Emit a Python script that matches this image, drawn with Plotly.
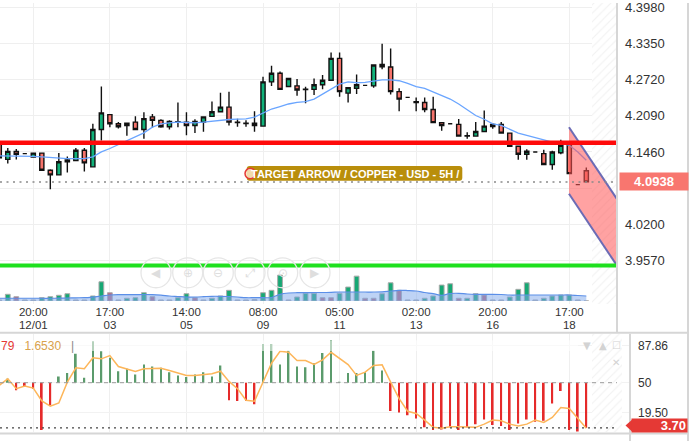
import plotly.graph_objects as go

W, H = 698, 441

# ---------------- data ----------------
opens = [4.160, 4.133, 4.147, 4.143, 4.137, 4.144, 4.114, 4.106, 4.129, 4.131,
         4.149, 4.120, 4.185, 4.211, 4.195, 4.192, 4.198, 4.185, 4.207, 4.201,
         4.190, 4.1985, 4.198, 4.192, 4.198, 4.208, 4.216, 4.224, 4.198, 4.196,
         4.196, 4.191, 4.268, 4.283, 4.260, 4.261, 4.2555, 4.255, 4.263, 4.271,
         4.309, 4.2485, 4.257, 4.262, 4.261, 4.2985, 4.294, 4.251, 4.241, 4.2335,
         4.232, 4.220, 4.197, 4.195, 4.194, 4.1742, 4.1736, 4.1817, 4.1903, 4.1938,
         4.1788, 4.1558, 4.1419, 4.146, 4.143, 4.124, 4.1447, 4.1575, 4.089, 4.1131]
highs = [4.166, 4.153, 4.151, 4.143, 4.145, 4.145, 4.116, 4.144, 4.138, 4.153,
         4.153, 4.195, 4.260, 4.212, 4.198, 4.196, 4.208, 4.215, 4.212, 4.203,
         4.201, 4.232, 4.215, 4.203, 4.207, 4.234, 4.249, 4.251, 4.204, 4.201,
         4.217, 4.277, 4.296, 4.286, 4.275, 4.273, 4.2595, 4.274, 4.280, 4.319,
         4.319, 4.259, 4.281, 4.262, 4.298, 4.3345, 4.326, 4.257, 4.241, 4.241,
         4.241, 4.242, 4.197, 4.195, 4.2035, 4.1805, 4.198, 4.218, 4.196, 4.198,
         4.1795, 4.1558, 4.1506, 4.146, 4.150, 4.148, 4.1672, 4.1585, 4.089, 4.1187]
lows = [4.133, 4.126, 4.133, 4.143, 4.136, 4.113, 4.081, 4.105, 4.110, 4.131,
        4.112, 4.120, 4.166, 4.189, 4.187, 4.174, 4.184, 4.169, 4.188, 4.188,
        4.185, 4.189, 4.175, 4.179, 4.181, 4.207, 4.216, 4.192, 4.190, 4.190,
        4.181, 4.190, 4.261, 4.254, 4.259, 4.244, 4.231, 4.245, 4.255, 4.271,
        4.242, 4.232, 4.247, 4.262, 4.258, 4.290, 4.246, 4.217, 4.241, 4.217,
        4.215, 4.197, 4.183, 4.195, 4.1736, 4.169, 4.1736, 4.1817, 4.1863, 4.178,
        4.1546, 4.1326, 4.1326, 4.146, 4.123, 4.115, 4.142, 4.1075, 4.089, 4.0938]
closes = [4.136, 4.147, 4.142, 4.143, 4.144, 4.114, 4.106, 4.129, 4.132, 4.149,
          4.127, 4.185, 4.214, 4.195, 4.190, 4.196, 4.185, 4.204, 4.201, 4.190,
          4.199, 4.1975, 4.192, 4.199, 4.207, 4.216, 4.224, 4.198, 4.197, 4.1955,
          4.192, 4.268, 4.283, 4.255, 4.274, 4.254, 4.2545, 4.263, 4.271, 4.309,
          4.251, 4.258, 4.263, 4.262, 4.2975, 4.2945, 4.251, 4.238, 4.241, 4.232,
          4.220, 4.197, 4.192, 4.195, 4.1736, 4.1737, 4.1817, 4.191, 4.1938, 4.1788,
          4.1558, 4.1419, 4.1471, 4.146, 4.124, 4.146, 4.1575, 4.1083, 4.089, 4.0938]
ma_line = [4.139, 4.139, 4.1386, 4.1386, 4.1383, 4.1373, 4.136, 4.135, 4.1343, 4.1343,
           4.1343, 4.1373, 4.146, 4.152, 4.1589, 4.1661, 4.1727, 4.1793, 4.1891, 4.1948,
           4.1966, 4.1978, 4.1973, 4.1966, 4.1978, 4.1995, 4.2013, 4.2025, 4.203, 4.2035,
           4.2065, 4.2134, 4.2208, 4.225, 4.2295, 4.2324, 4.2336, 4.2381, 4.2468, 4.2554,
           4.2641, 4.2682, 4.2665, 4.267, 4.270, 4.2717, 4.2717, 4.270, 4.2653, 4.2596,
           4.2566, 4.2509, 4.244, 4.2381, 4.2295, 4.2191, 4.2094, 4.203, 4.1948, 4.1921,
           4.1852, 4.1788, 4.1748, 4.1706, 4.1661, 4.1632, 4.162, 4.1575, 4.146, 4.1315]
volumes = [1, 6.7, 4.3, 1, 1, 3.3, 4.3, 5.7, 7.3, 1,
           1, 5, 19.3, 8.3, 1, 2.7, 3.3, 8.3, 4.3, 1,
           1, 3.3, 7.3, 3.3, 1, 2.7, 5, 10.7, 1, 1,
           1.5, 8.3, 10.7, 26, 1, 4, 7.7, 7.7, 3.3, 3.3,
           7.7, 14, 25, 2.7, 2.7, 7.3, 18.3, 10.7, 1, 1,
           2.7, 5, 16, 17.3, 2.7, 2.7, 7.3, 6, 1, 1,
           4, 11.7, 18.3, 1, 2.7, 5, 6, 6, 1, 0]
vol_dir = ["n", "g", "r", "n", "n", "g", "g", "g", "g", "n",
           "n", "g", "g", "r", "n", "g", "g", "g", "r", "n",
           "n", "g", "g", "r", "n", "g", "g", "g", "n", "n",
           "n", "g", "g", "g", "n", "g", "g", "g", "r", "r",
           "g", "g", "g", "r", "r", "g", "g", "r", "n", "n",
           "g", "g", "g", "g", "r", "g", "g", "r", "n", "n",
           "g", "g", "g", "n", "g", "g", "g", "g", "n", "n"]
vol_ma = [2.7, 2.7, 2.7, 2.7, 2.7, 2.7, 2.7, 2.8, 3, 3.2,
          3.3, 4, 5, 6, 6.3, 6.3, 6.3, 6.5, 6.3, 5.8,
          5, 4.5, 4, 4, 4.3, 4.7, 4.7, 4.5, 4, 3.3,
          3.3, 3.3, 3.5, 6.7, 8, 8.3, 8.3, 8.5, 8.5, 8.7,
          9, 9, 9, 9, 9, 9.2, 10, 10.7, 10.5, 10,
          8.5, 7.3, 5.7, 7.5, 7.7, 7, 6.7, 6.7, 6.7, 6.5,
          6, 6, 6, 6, 6, 6, 6, 6, 5.5, 5]
osc_hist = [48, 54, 42.2, 45.5, 43.9, 1.5, 26.9, 56.4, 59.8, 79.5,
            55.1, 92.3, 82.1, 75.4, 61.8, 64.2, 58.4, 68.6, 66.6, 65.2,
            60.8, 57.4, 55.7, 58.4, 60.8, 56.4, 67.6, 32, 31.3, 31.3,
            27.9, 89.6, 89.6, 68.6, 82.8, 66.6, 65.9, 69.9, 80.5, 93.7,
            50.5, 60, 59.8, 60.8, 82.8, 62.5, 21.1, 19.5, 16.8, 13.4,
            4.3, 1.5, 2.2, 4.3, 1.5, 4.3, 7.6, 12.4, 6.6, 5.6,
            1.5, 8.3, 12.4, 10, 11, 28.7, 41.5, 1.5, 0, 3.7]
osc_line = [47.3, 54, 43.9, 46.5, 44.5, 31.3, 25.9, 29.3, 50.6, 65.2,
            64.2, 75.4, 74.4, 77.7, 66.6, 64.2, 61.5, 64.2, 64.2, 64.8,
            62.5, 59.8, 57.4, 57.4, 58.4, 59.1, 61.8, 51.3, 43.9, 32,
            31, 50.6, 69.9, 82.1, 81.1, 72.7, 72.7, 68.6, 73.4, 81.1,
            74.5, 68.5, 57.4, 60.8, 67.6, 68.3, 50.6, 33.7, 20.8, 18.5,
            11.7, 4.3, 3.3, 4.9, 4.9, 4.3, 4.3, 7.6, 11.7, 11,
            7.6, 5.6, 7.6, 11.7, 9.3, 14.4, 24.6, 23.6, 13.4, 3.3]
tick_idx = [4, 13, 22, 31, 40, 49, 58, 67]
tick_time = ["20:00", "17:00", "14:00", "08:00", "05:00", "02:00", "20:00", "17:00"]
tick_date = ["12/01", "03", "05", "09", "11", "13", "16", "18"]
price_ticks = [4.398, 4.335, 4.272, 4.209, 4.146, 4.083, 4.020, 3.957]
price_tick_text = ["4.3980", "4.3350", "4.2720", "4.2090", "4.1460", "", "4.0200", "3.9570"]
osc_ticks = [87.86, 50, 19.50]
resistance = 4.162
support = 3.948
last_price = 4.0938
last_osc = 3.70
channel_x = [66.96, 72.61]
channel_upper = [4.1891, 4.0637]
channel_lower = [4.0732, 3.9478]
title_text = "TARGET ARROW / COPPER - USD - 5H /"

idx = list(range(len(closes)))

# ---------------- geometry helpers (layout only) ----------------
X0, DX = -0.73, 8.508          # pixel position of candle 0 and spacing
def px2i(x):
    return (x - X0) / DX
def PX(x):
    return x / W
def PY(y):
    return 1 - y / H

P_TOP, P_BOT = 4.40544, 3.88122
O_TOP, O_BOT = 100.1, -0.51

fig = go.Figure()

# hatched "future" areas
for xa, ya, top, bot in (("x", "y", P_TOP, P_BOT), ("x2", "y2", O_TOP, O_BOT)):
    fig.add_trace(go.Bar(x=[(px2i(592) + px2i(622)) / 2], y=[top - bot], base=[bot],
                         width=[px2i(622) - px2i(592)], xaxis=xa, yaxis=ya,
                         marker=dict(color="white", line=dict(width=0),
                                     pattern=dict(shape="/", fgcolor="#e3e3e3", bgcolor="white",
                                                  size=6, solidity=0.18)),
                         hoverinfo="skip"))

# volume
fig.add_trace(go.Scatter(x=idx, y=vol_ma, xaxis="x", yaxis="y3", mode="lines",
                         line=dict(color="#5b8fe8", width=1.2, shape="spline"),
                         fill="tozeroy", fillcolor="rgba(125,168,236,0.5)", hoverinfo="skip"))
vcol = {"g": "#17a874", "r": "#b5677f", "n": "#b8b8b8"}
fig.add_trace(go.Bar(x=idx, y=volumes, xaxis="x", yaxis="y3", width=0.56,
                     marker=dict(color=[vcol[d] for d in vol_dir],
                                 line=dict(color="#aaaaaa", width=1)),
                     hoverinfo="skip"))

# moving average + candles
fig.add_trace(go.Scatter(x=idx, y=ma_line, xaxis="x", yaxis="y", mode="lines",
                         line=dict(color="#6aa5ff", width=1.3), hoverinfo="skip"))
fig.add_trace(go.Candlestick(x=idx, open=opens, high=highs, low=lows, close=closes,
                             xaxis="x", yaxis="y", whiskerwidth=0,
                             increasing=dict(fillcolor="#10b27a", line=dict(color="#111111", width=1.4)),
                             decreasing=dict(fillcolor="#f6736b", line=dict(color="#111111", width=1.4)),
                             hoverinfo="skip"))

# oscillator
fig.add_trace(go.Bar(x=idx, y=[v - 50 for v in osc_hist], base=[50] * len(osc_hist),
                     xaxis="x2", yaxis="y2", width=0.2,
                     marker=dict(color=["#5b9b6c" if v >= 50 else "#e52a2a" for v in osc_hist],
                                 line=dict(width=0)),
                     hoverinfo="skip"))
fig.add_trace(go.Scatter(x=idx, y=osc_line, xaxis="x2", yaxis="y2", mode="lines",
                         line=dict(color="#fdb65a", width=1.5), hoverinfo="skip"))

shapes = []
# channel (arrow target)
cx0, cx1 = channel_x
path = (f"M {cx0},{channel_upper[0]} L {cx1},{channel_upper[1]} "
        f"L {cx1},{channel_lower[1]} L {cx0},{channel_lower[0]} Z")
shapes.append(dict(type="path", xref="x", yref="y", path=path, layer="above",
                   fillcolor="rgba(255,85,85,0.55)", line=dict(width=0)))
for ys in (channel_upper, channel_lower):
    shapes.append(dict(type="line", xref="x", yref="y", x0=cx0, x1=cx1, y0=ys[0], y1=ys[1],
                       layer="above", line=dict(color="#6b6bb5", width=2)))
# horizontal levels
shapes.append(dict(type="line", xref="x domain", yref="y", x0=0, x1=1, y0=resistance, y1=resistance,
                   layer="above", line=dict(color="#ff0a0a", width=4.5)))
shapes.append(dict(type="line", xref="x domain", yref="y", x0=0, x1=1, y0=support, y1=support,
                   layer="above", line=dict(color="#1fe01f", width=4)))
shapes.append(dict(type="line", xref="x domain", yref="y", x0=0, x1=1, y0=last_price, y1=last_price,
                   layer="above", line=dict(color="#8a8a8a", width=1.5, dash="2px,4.5px")))
# oscillator reference lines
fr = 617 / 630
shapes.append(dict(type="line", xref="x2 domain", yref="y2", x0=0, x1=fr, y0=50, y1=50,
                   layer="above", line=dict(color="#9a9a9a", width=1, dash="4px,4px")))
shapes.append(dict(type="line", xref="x2 domain", yref="y2", x0=0, x1=fr, y0=last_osc, y1=last_osc,
                   layer="above", line=dict(color="#444444", width=1.3, dash="2px,4px")))
# translucent legend strip
shapes.append(dict(type="rect", xref="paper", yref="paper", x0=PX(0), x1=PX(578),
                   y0=PY(350.5), y1=PY(339.5), layer="above",
                   fillcolor="rgba(255,255,255,0.55)", line=dict(width=0)))

# panel borders
bc = "#d6d6d6"
shapes.append(dict(type="line", xref="paper", yref="paper", x0=PX(617), x1=PX(617), y0=PY(0), y1=PY(332),
                   line=dict(color=bc, width=2)))
shapes.append(dict(type="line", xref="paper", yref="paper", x0=PX(630), x1=PX(630), y0=PY(333), y1=PY(441),
                   line=dict(color=bc, width=2)))
shapes.append(dict(type="line", xref="paper", yref="paper", x0=PX(688), x1=PX(688), y0=PY(0), y1=PY(441),
                   line=dict(color=bc, width=2)))
shapes.append(dict(type="line", xref="paper", yref="paper", x0=PX(0), x1=PX(688), y0=PY(332), y1=PY(332),
                   line=dict(color=bc, width=2)))
shapes.append(dict(type="line", xref="paper", yref="paper", x0=PX(0), x1=PX(688), y0=PY(433.5), y1=PY(433.5),
                   line=dict(color=bc, width=2)))

# navigation circles
nav_x = [156, 187.7, 218.3, 250, 282.7, 315]
nav_glyph = ["◀", "⊕", "⊖", "⤢", "⊙", "▶"]
for cx in nav_x:
    shapes.append(dict(type="circle", xref="paper", yref="paper",
                       x0=PX(cx - 15), x1=PX(cx + 15), y0=PY(271.7 + 15), y1=PY(271.7 - 15),
                       line=dict(color="#e6e6e6", width=1.3), fillcolor="rgba(255,255,255,0)"))

# title box (rounded)
def rrect(x0, y0, x1, y1, r):
    pts = [("M", x0 + r, y0), ("L", x1 - r, y0), ("Q", x1, y0, x1, y0 + r), ("L", x1, y1 - r),
           ("Q", x1, y1, x1 - r, y1), ("L", x0 + r, y1), ("Q", x0, y1, x0, y1 - r),
           ("L", x0, y0 + r), ("Q", x0, y0, x0 + r, y0)]
    s = []
    for p in pts:
        if p[0] == "Q":
            s.append(f"Q {PX(p[1])},{PY(p[2])} {PX(p[3])},{PY(p[4])}")
        else:
            s.append(f"{p[0]} {PX(p[1])},{PY(p[2])}")
    return " ".join(s) + " Z"

shapes.append(dict(type="path", xref="paper", yref="paper", path=rrect(246.7, 164, 462.3, 179, 3),
                   fillcolor="#b98e0b", line=dict(width=0), layer="above"))

# osc value label notch
shapes.append(dict(type="path", xref="paper", yref="paper",
                   path=f"M {PX(632)},{PY(419.5)} L {PX(625.5)},{PY(425.5)} L {PX(632)},{PY(431.5)} Z",
                   fillcolor="#e53935", line=dict(width=0)))

annotations = []
annotations.append(dict(xref="paper", yref="paper", x=PX(354.5), y=PY(171.8), text=f"<b>{title_text}</b>",
                        showarrow=False, xanchor="center", yanchor="middle",
                        font=dict(family="Liberation Sans, Arial", size=11, color="white")))
annotations.append(dict(xref="paper", yref="y", x=PX(654), y=last_price, text=f"<b>{last_price:.4f}</b>",
                        showarrow=False, xanchor="center", yanchor="middle", bgcolor="#f8766f",
                        width=66, height=15, borderpad=1,
                        font=dict(family="Liberation Sans, Arial", size=13, color="white")))
annotations.append(dict(xref="paper", yref="paper", x=PX(659), y=PY(425.5), text=f"<b>{last_osc:.2f}</b>",
                        showarrow=False, xanchor="center", yanchor="middle", bgcolor="#e53935",
                        width=53, height=11, borderpad=1, align="right",
                        font=dict(family="Liberation Sans, Arial", size=13, color="white")))
annotations.append(dict(xref="paper", yref="paper", x=PX(-1), y=PY(345.5),
                        text='<span style="color:#e53935">79</span>&nbsp;&nbsp;&nbsp;'
                             '<span style="color:#d9a24c">1.6530</span>&nbsp;&nbsp;&nbsp;'
                             '<span style="color:#888888">|</span>',
                        showarrow=False, xanchor="left", yanchor="middle",
                        font=dict(family="Liberation Sans, Arial", size=12)))
for cx, g in zip(nav_x, nav_glyph):
    annotations.append(dict(xref="paper", yref="paper", x=PX(cx), y=PY(271.7), text=g, showarrow=False,
                            xanchor="center", yanchor="middle",
                            font=dict(family="DejaVu Sans", size=12, color="#dedede")))
for gx, gy, g in [(587, 345, "▼"), (603, 345, "▲"), (616, 345, "☐"), (616, 362, "✕")]:
    annotations.append(dict(xref="paper", yref="paper", x=PX(gx), y=PY(gy), text=g, showarrow=False,
                            xanchor="center", yanchor="middle",
                            font=dict(family="DejaVu Sans", size=10, color="#d3d3d3")))

# red marker circle over the title's first letter
shapes.append(dict(type="circle", xref="paper", yref="paper", layer="above",
                   x0=PX(245), x1=PX(255.5), y0=PY(177), y1=PY(166.5),
                   line=dict(color="#e53935", width=1.5), fillcolor="rgba(250,232,200,0.85)"))

grid = "#efefef"
fig.update_layout(
    width=W, height=H, margin=dict(l=0, r=0, t=0, b=0),
    paper_bgcolor="white", plot_bgcolor="rgba(0,0,0,0)", showlegend=False,
    barmode="overlay", boxgap=0.3,
    font=dict(family="Liberation Sans, Arial", size=12, color="#333333"),
    xaxis=dict(domain=[0, PX(617)], range=[px2i(0), px2i(617)], anchor="y",
               tickvals=tick_idx, ticktext=tick_time, ticks="", showline=False, zeroline=False,
               showgrid=True, gridcolor=grid, gridwidth=1, rangeslider=dict(visible=False),
               tickfont=dict(size=11.5, color="#333333"), ticklabelstandoff=0),
    yaxis=dict(domain=[PY(303), 1], range=[P_BOT, P_TOP], anchor="x", side="right",
               tickvals=price_ticks, ticktext=price_tick_text, ticks="",
               showgrid=True, gridcolor=grid, zeroline=False, showline=False,
               ticklabeloverflow="allow",
               tickfont=dict(size=13, color="#333333"), ticklabelstandoff=7),
    yaxis3=dict(domain=[PY(300), PY(270)], range=[0, 30], anchor="x",
                visible=False, showgrid=False, zeroline=False),
    xaxis2=dict(domain=[0, PX(630)], range=[px2i(0), px2i(630)], anchor="y2", side="top",
                tickvals=tick_idx, ticktext=tick_date, ticks="", showline=False, zeroline=False,
                showgrid=True, gridcolor=grid, tickfont=dict(size=11.5, color="#333333"),
                ticklabelstandoff=1),
    yaxis2=dict(domain=[PY(432), PY(333)], range=[O_BOT, O_TOP], anchor="x2", side="right",
                tickvals=osc_ticks, ticktext=["87.86", "50", "19.50"], ticks="",
                showgrid=True, gridcolor="#f2f2f2", zeroline=False, showline=False,
                tickfont=dict(size=12, color="#333333"), ticklabelstandoff=7),
    shapes=shapes, annotations=annotations,
)

fig.write_html("out.html")
